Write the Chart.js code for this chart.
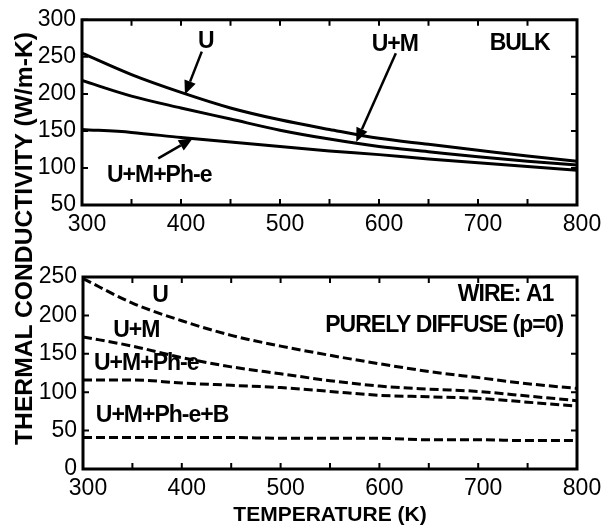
<!DOCTYPE html>
<html>
<head>
<meta charset="utf-8">
<script src="https://cdn.jsdelivr.net/npm/chart.js@4.4.0/dist/chart.umd.min.js"></script>
<style>
  body { margin: 0; background: #fff; }
  #wrap { position: relative; width: 605px; height: 531px; overflow: hidden; }
  #wrap canvas { position: absolute; left: 0; }
  #ytitle {
    position: absolute; left: 0; top: 0;
    font: bold 23px "Liberation Sans", Arial, sans-serif;
    white-space: nowrap; color: #000;
  }
</style>
</head>
<body>
<div id="wrap">
  <canvas id="bulk" width="605" height="240" style="top:0"></canvas>
  <canvas id="wire" width="605" height="291" style="top:240px"></canvas>
  <div id="ytitle">THERMAL CONDUCTIVITY (W/m-K)</div>
</div>
<script>
// temperature grid (K)
var temps = [300, 350, 400, 450, 500, 550, 600, 650, 700, 750, 800];

// bulk, solid lines (W/m-K)
var bulkU      = [255, 226, 202, 181, 165, 152, 140, 132, 124, 116, 109];
var bulkUM     = [218, 197, 181, 166, 151, 139, 129, 122, 115, 109, 104];
var bulkUMPhe  = [152, 148, 141, 135, 129, 123, 118, 112, 107, 102, 97];

// wire A1, purely diffuse, dashed lines
var wireU      = [248, 216, 193, 174, 160, 148, 137, 127, 119, 111, 105];
var wireUM     = [172, 160, 145, 133, 124, 115, 108, 104, 101, 95, 89];
var wireUMPhe  = [116, 116, 112, 109, 106, 101, 96, 94, 92, 87, 82];
var wireUMPheB = [41, 41, 41, 41, 40, 40, 40, 38, 38, 37, 37];

var xTicks = [300, 400, 500, 600, 700, 800];
var bulkYTicks = [50, 100, 150, 200, 250, 300];
var wireYTicks = [0, 50, 100, 150, 200, 250];

var FONT = '"Liberation Sans", Arial, sans-serif';

function toPoints(ys) {
  return temps.map(function (t, i) { return { x: t, y: ys[i] }; });
}

function lineSet(ys, dashed) {
  return {
    data: toPoints(ys),
    borderColor: '#000',
    borderWidth: 3,
    borderDash: dashed ? [9, 4] : [],
    pointRadius: 0,
    fill: false,
    cubicInterpolationMode: 'monotone'
  };
}

// frame, inward ticks, labels and arrows
function framePlugin(notes, arrows) {
  return {
    id: 'framePlugin',
    afterDraw: function (chart) {
      var ctx = chart.ctx, a = chart.chartArea;
      var xs = chart.scales.x, ys = chart.scales.y;
      ctx.save();
      ctx.strokeStyle = '#000';
      ctx.fillStyle = '#000';
      ctx.lineWidth = 3;
      ctx.strokeRect(a.left, a.top, a.right - a.left, a.bottom - a.top);
      ctx.lineWidth = 2;
      ctx.beginPath();
      xs.ticks.forEach(function (t) {
        var px = xs.getPixelForValue(t.value);
        ctx.moveTo(px, a.bottom); ctx.lineTo(px, a.bottom - 6);
        ctx.moveTo(px, a.top); ctx.lineTo(px, a.top + 6);
      });
      ys.ticks.forEach(function (t) {
        var py = ys.getPixelForValue(t.value);
        ctx.moveTo(a.left, py); ctx.lineTo(a.left + 6, py);
        ctx.moveTo(a.right, py); ctx.lineTo(a.right - 6, py);
      });
      ctx.stroke();

      ctx.font = 'bold 23px ' + FONT;
      ctx.letterSpacing = '-1px';
      ctx.textBaseline = 'middle';
      notes.forEach(function (n) {
        ctx.textAlign = n.align || 'center';
        ctx.fillText(n.text, xs.getPixelForValue(n.x), ys.getPixelForValue(n.y));
      });

      ctx.lineWidth = 2.5;
      arrows.forEach(function (ar) {
        var x1 = xs.getPixelForValue(ar[0]), y1 = ys.getPixelForValue(ar[1]);
        var x2 = xs.getPixelForValue(ar[2]), y2 = ys.getPixelForValue(ar[3]);
        var ang = Math.atan2(y2 - y1, x2 - x1);
        var hl = 14, hw = 6;
        var bx = x2 - hl * Math.cos(ang), by = y2 - hl * Math.sin(ang);
        ctx.beginPath();
        ctx.moveTo(x1, y1); ctx.lineTo(bx, by);
        ctx.stroke();
        ctx.beginPath();
        ctx.moveTo(x2, y2);
        ctx.lineTo(bx + hw * Math.sin(ang), by - hw * Math.cos(ang));
        ctx.lineTo(bx - hw * Math.sin(ang), by + hw * Math.cos(ang));
        ctx.closePath();
        ctx.fill();
      });
      ctx.restore();
    }
  };
}

function makeChart(id, sets, yMin, yMax, padTop, yWidth, xHeight, xTitle, notes, arrows) {
  return new Chart(document.getElementById(id), {
    type: 'line',
    data: { datasets: sets },
    options: {
      responsive: false,
      animation: false,
      devicePixelRatio: 1,
      layout: { padding: { top: padTop, right: 28, left: 0, bottom: 0 } },
      plugins: { legend: { display: false }, tooltip: { enabled: false } },
      scales: {
        x: {
          type: 'linear', min: 300, max: 800,
          grid: { display: false, drawTicks: false },
          border: { display: false },
          ticks: {
            stepSize: 50, autoSkip: false, maxRotation: 0, padding: 6, labelOffset: 5,
            color: '#000', font: { family: FONT, size: 23 },
            callback: function (v) { return xTicks.indexOf(v) >= 0 ? String(v) : ''; }
          },
          title: xTitle ? {
            display: true, text: xTitle, color: '#000',
            font: { family: FONT, size: 21, weight: 'bold' },
            padding: { top: 0, bottom: 3 }
          } : { display: false },
          afterFit: function (s) { s.height = xHeight; }
        },
        y: {
          min: yMin, max: yMax,
          grid: { display: false, drawTicks: false },
          border: { display: false },
          ticks: {
            stepSize: 50, padding: 6, color: '#000',
            font: { family: FONT, size: 23 }
          },
          afterFit: function (s) { s.width = yWidth; }
        }
      }
    },
    plugins: [framePlugin(notes, arrows)]
  });
}

makeChart('bulk',
  [lineSet(bulkU, false), lineSet(bulkUM, false), lineSet(bulkUMPhe, false)],
  50, 300, 14, 82, 35, null,
  [
    { text: 'U', x: 425, y: 270 },
    { text: 'U+M', x: 616, y: 266 },
    { text: 'BULK', x: 742, y: 268 },
    { text: 'U+M+Ph-e', x: 378, y: 90 }
  ],
  [
    [421, 257, 404, 199],
    [617, 255, 577, 135],
    [377, 113, 412, 140]
  ]);

makeChart('wire',
  [lineSet(wireU, true), lineSet(wireUM, true), lineSet(wireUMPhe, true), lineSet(wireUMPheB, true)],
  0, 250, 37, 83, 62, 'TEMPERATURE (K)',
  [
    { text: 'U', x: 378, y: 226 },
    { text: 'U+M', x: 354, y: 180 },
    { text: 'U+M+Ph-e', x: 364, y: 137 },
    { text: 'U+M+Ph-e+B', x: 380, y: 70 },
    { text: 'WIRE: A1', x: 776, y: 227, align: 'right' },
    { text: 'PURELY DIFFUSE (p=0)', x: 786, y: 186, align: 'right' }
  ],
  []);

// shared vertical axis title
var yt = document.getElementById('ytitle');
var w = yt.offsetWidth, h = yt.offsetHeight;
yt.style.left = (24 - w / 2) + 'px';
yt.style.top = (238 - h / 2) + 'px';
yt.style.transform = 'rotate(-90deg) scaleX(' + (413 / w) + ')';
</script>
</body>
</html>
